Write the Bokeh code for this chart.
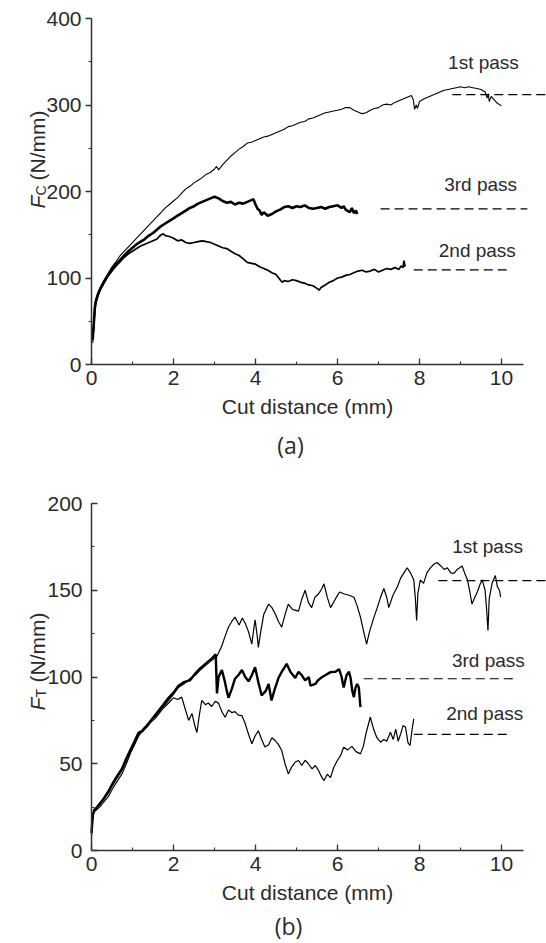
import math

from bokeh.core.properties import value
from bokeh.embed import file_html
from bokeh.layouts import column
from bokeh.models import Label, LinearAxis, Range1d, SingleIntervalTicker
from bokeh.plotting import figure
from bokeh.resources import INLINE

# ---------------- (a) cutting force F_C ----------------
fc1_x = [0.03, 0.06, 0.08, 0.1, 0.15, 0.2, 0.3, 0.4, 0.5, 0.6, 0.7, 0.8, 0.9, 1.0, 1.1, 1.2, 1.3, 1.4, 1.5, 1.6,
         1.7, 1.8, 1.9, 2.0, 2.1, 2.2, 2.3, 2.4, 2.5, 2.6, 2.7, 2.8, 2.9, 3.0, 3.05, 3.1, 3.2, 3.3, 3.4, 3.5,
         3.6, 3.7, 3.8, 3.9, 4.0, 4.1, 4.2, 4.3, 4.4, 4.5, 4.6, 4.7, 4.8, 4.9, 5.0, 5.1, 5.2, 5.3, 5.4, 5.5,
         5.6, 5.7, 5.8, 5.9, 6.0, 6.1, 6.2, 6.3, 6.4, 6.5, 6.6, 6.7, 6.8, 6.9, 7.0, 7.1, 7.2, 7.3, 7.4, 7.5,
         7.6, 7.7, 7.8, 7.85, 7.88, 7.92, 7.95, 8.0, 8.1, 8.2, 8.3, 8.4, 8.5, 8.6, 8.7, 8.8, 8.9, 9.0, 9.1, 9.2,
         9.3, 9.4, 9.5, 9.6, 9.65, 9.68, 9.7, 9.75, 9.8, 9.9, 10.0]
fc1_y = [25, 45, 62, 75, 82, 88, 97, 105, 113, 119, 126, 131, 136, 141, 146, 151, 156, 161, 166, 171,
         176, 181, 185, 189, 193, 198, 203, 206, 210, 213, 216, 220, 222, 226, 229, 225, 231, 236, 241, 245,
         249, 252, 256, 257, 259, 261, 263, 264, 266, 268, 270, 272, 275, 276, 278, 280, 281, 284, 285, 287,
         289, 291, 292, 293, 294, 295, 297, 297, 294, 292, 290, 291, 294, 296, 297, 300, 301, 300, 303, 305,
         307, 309, 311, 306, 295, 300, 296, 304, 307, 309, 311, 313, 315, 317, 318, 319, 320, 321, 320, 321,
         320, 319, 318, 315, 308, 313, 304, 310, 307, 302, 299]

fc2_x = [0.03, 0.06, 0.08, 0.1, 0.15, 0.2, 0.3, 0.4, 0.5, 0.6, 0.7, 0.8, 0.9, 1.0, 1.1, 1.2, 1.3, 1.4, 1.5, 1.6,
         1.65, 1.7, 1.75, 1.8, 1.9, 2.0, 2.1, 2.2, 2.3, 2.4, 2.5, 2.6, 2.7, 2.8, 2.9, 3.0, 3.1, 3.2, 3.3, 3.4,
         3.5, 3.6, 3.7, 3.8, 3.9, 4.0, 4.1, 4.2, 4.3, 4.4, 4.5, 4.6, 4.65, 4.7, 4.8, 4.9, 5.0, 5.1, 5.2, 5.3,
         5.4, 5.5, 5.55, 5.6, 5.7, 5.8, 5.9, 6.0, 6.1, 6.2, 6.3, 6.4, 6.5, 6.6, 6.7, 6.8, 6.9, 7.0, 7.1, 7.2,
         7.3, 7.4, 7.5, 7.55, 7.6, 7.62, 7.65]
fc2_y = [28, 48, 62, 70, 79, 85, 94, 102, 108, 114, 119, 124, 128, 131, 134, 137, 139, 141, 143, 145,
         148, 150, 151, 149, 148, 146, 143, 144, 141, 140, 141, 142, 143, 142, 141, 139, 137, 135, 134, 131,
         128, 126, 122, 118, 117, 116, 113, 111, 109, 106, 104, 98, 95, 97, 96, 98, 97, 95, 94, 92,
         91, 88, 86, 89, 92, 95, 97, 100, 101, 103, 104, 106, 108, 109, 107, 108, 110, 107, 109, 111,
         110, 112, 110, 114, 112, 120, 113]

fc3_x = [0.03, 0.06, 0.08, 0.1, 0.15, 0.2, 0.3, 0.4, 0.5, 0.6, 0.7, 0.8, 0.9, 1.0, 1.1, 1.2, 1.3, 1.4, 1.5, 1.6,
         1.7, 1.8, 1.9, 2.0, 2.1, 2.2, 2.3, 2.4, 2.5, 2.6, 2.7, 2.8, 2.9, 3.0, 3.1, 3.2, 3.3, 3.4, 3.5, 3.6,
         3.7, 3.8, 3.9, 3.95, 4.0, 4.05, 4.1, 4.15, 4.2, 4.3, 4.4, 4.5, 4.6, 4.7, 4.8, 4.9, 5.0, 5.1, 5.2, 5.3,
         5.4, 5.5, 5.6, 5.7, 5.8, 5.9, 6.0, 6.1, 6.15, 6.2, 6.3, 6.35, 6.4, 6.45, 6.48]
fc3_y = [30, 50, 65, 72, 80, 86, 95, 103, 110, 116, 121, 126, 131, 135, 139, 142, 145, 149, 152, 156,
         160, 163, 166, 169, 172, 175, 178, 181, 183, 186, 188, 190, 192, 194, 192, 189, 187, 188, 185, 187,
         186, 188, 190, 191, 185, 180, 178, 173, 176, 172, 174, 177, 179, 182, 183, 181, 183, 182, 184, 181,
         180, 181, 182, 180, 182, 183, 184, 181, 183, 179, 176, 181, 175, 178, 174]

# steady-state levels of (a): value, start, end of the dashed line
fc_level = [312, 109.5, 180]
fc_level_x0 = [8.8, 7.86, 7.05]
fc_level_x1 = [11.1, 10.2, 10.63]

# ---------------- (b) thrust force F_T ----------------
ft1_x = [0.0, 0.03, 0.06, 0.09, 0.15, 0.25, 0.35, 0.41, 0.5, 0.6, 0.74, 0.85, 0.95, 1.05, 1.15, 1.25, 1.35, 1.45,
         1.55, 1.65, 1.75, 1.88, 2.0, 2.12, 2.25, 2.4, 2.53, 2.65, 2.75, 2.85, 2.95, 3.06, 3.12, 3.18, 3.25,
         3.34, 3.42, 3.5, 3.6, 3.68, 3.75, 3.83, 3.91, 3.96, 3.99, 4.04, 4.07, 4.12, 4.2, 4.32, 4.4, 4.48,
         4.56, 4.64, 4.72, 4.8, 4.9, 5.05, 5.13, 5.21, 5.29, 5.37, 5.45, 5.54, 5.62, 5.67, 5.75, 5.83, 5.95,
         6.05, 6.15, 6.3, 6.4, 6.48, 6.56, 6.63, 6.71, 6.78, 6.89, 6.97, 7.05, 7.13, 7.2, 7.25, 7.35, 7.46,
         7.54, 7.62, 7.7, 7.78, 7.86, 7.9, 7.93, 7.96, 8.02, 8.1, 8.18, 8.27, 8.35, 8.43, 8.52, 8.6, 8.68,
         8.76, 8.84, 8.92, 9.04, 9.1, 9.17, 9.22, 9.28, 9.35, 9.41, 9.47, 9.53, 9.6, 9.64, 9.67, 9.7, 9.77,
         9.85, 9.9, 9.95, 9.98]
ft1_y = [8, 18, 24, 23, 25, 28, 31, 33, 37, 41, 46, 52, 57, 62, 67, 70, 72, 75,
         77, 80, 83, 86.5, 90, 94, 96, 99, 101, 104, 106, 108, 110, 112, 115, 118, 123,
         128.7, 132, 134.5, 130, 134, 131, 126, 119, 128, 133, 124, 117, 125, 136, 142, 140, 136.5,
         132, 128.7, 136, 142, 139, 138, 145, 150, 143, 140, 146, 148, 151, 153.7, 146, 140, 145,
         149, 148, 147, 146, 141, 134.5, 127, 119, 126, 134.5, 140, 146, 151, 146, 140, 147, 152,
         157, 160, 163, 160, 156, 145, 132.6, 148, 156, 154, 160, 163, 165, 166, 164, 162, 163,
         160, 159.7, 162, 164, 160, 156, 150, 142, 146, 149, 153, 156, 150, 138, 126.8, 145, 154,
         158.5, 152, 150, 146]

ft2_x = [0.0, 0.03, 0.06, 0.1, 0.2, 0.3, 0.41, 0.5, 0.6, 0.74, 0.85, 0.95, 1.05, 1.15, 1.25, 1.35, 1.45, 1.55,
         1.65, 1.75, 1.88, 2.0, 2.1, 2.2, 2.28, 2.37, 2.45, 2.52, 2.57, 2.63, 2.69, 2.78, 2.85, 2.93, 3.02,
         3.1, 3.18, 3.26, 3.34, 3.42, 3.5, 3.58, 3.67, 3.75, 3.83, 3.91, 3.99, 4.07, 4.15, 4.23, 4.32, 4.4,
         4.48, 4.56, 4.64, 4.72, 4.8, 4.88, 4.97, 5.05, 5.13, 5.21, 5.29, 5.38, 5.46, 5.54, 5.6, 5.67, 5.75,
         5.83, 5.91, 6.0, 6.08, 6.15, 6.25, 6.35, 6.45, 6.56, 6.63, 6.7, 6.8, 6.88, 6.96, 7.05, 7.13, 7.2,
         7.29, 7.36, 7.42, 7.48, 7.54, 7.6, 7.66, 7.72, 7.77, 7.82, 7.86]
ft2_y = [12, 19, 22, 23, 25, 28, 31, 35, 39, 44, 50, 56, 61, 66, 69, 71, 74, 76,
         79, 82, 85, 88, 87, 88.4, 82, 75, 79, 72, 68, 78, 86.5, 84, 85, 83, 86,
         84.8, 80, 76.8, 81, 79.5, 80, 78, 77.7, 73, 67, 61.5, 66, 69, 64, 59.7, 61, 65,
         63.4, 61, 57.6, 50, 44.2, 48, 51, 51.9, 49, 52, 50, 47, 49, 46, 43, 40.3, 44,
         42, 48, 52, 55, 59.5, 58, 60, 57, 55.7, 60, 68, 76.8, 70, 65, 62.4, 64, 63,
         68.2, 64, 70, 63, 67.2, 72, 71, 62, 60.5, 70, 75.9]

ft3_x = [0.0, 0.03, 0.06, 0.1, 0.2, 0.3, 0.41, 0.5, 0.6, 0.74, 0.85, 0.95, 1.05, 1.15, 1.25, 1.35, 1.45, 1.55,
         1.65, 1.75, 1.88, 2.0, 2.12, 2.25, 2.4, 2.53, 2.65, 2.75, 2.85, 2.95, 3.03, 3.06, 3.1, 3.18, 3.25,
         3.3, 3.34, 3.42, 3.5, 3.58, 3.67, 3.75, 3.83, 3.91, 3.99, 4.07, 4.15, 4.25, 4.32, 4.39, 4.47, 4.56,
         4.64, 4.72, 4.76, 4.85, 4.97, 5.05, 5.13, 5.21, 5.3, 5.34, 5.46, 5.52, 5.59, 5.7, 5.83, 5.95, 6.04,
         6.1, 6.15, 6.22, 6.28, 6.32, 6.36, 6.4, 6.44, 6.48, 6.52, 6.56]
ft3_y = [10, 20, 23, 24, 27, 30, 34, 38, 42, 47, 53, 58, 63, 68, 69, 72, 75, 78,
         81, 84, 88, 91, 95, 97, 98, 102, 105, 107, 109, 111, 113, 90.5, 100, 104, 97.6,
         92, 88, 93, 99, 101, 104, 100, 97.5, 101, 105.6, 97, 89.3, 92, 96, 86.5, 93, 99.4,
         103, 106, 107.6, 103, 99.4, 103, 101, 98, 100, 95, 96, 98, 99.4, 101, 102.8, 103, 104.5,
         100, 94, 101, 103, 99.4, 92, 88.4, 94, 96, 94, 82.6]

ft_level = [155.6, 66.9, 99]
ft_level_x0 = [8.46, 7.86, 6.64]
ft_level_x1 = [11.1, 10.22, 10.34]

pass_names = ["1st pass", "2nd pass", "3rd pass"]

# horizontal layout shared by both panels (pixels)
WIDTH = 546
AXIS_LEFT_PX = 91      # where x = 0 sits
PX_PER_MM = 41.0
AXIS_X_END = 10.54
FONT = "Liberation Sans"
TAG_FONT = "Open Sans"
TEXT_COLOR = "#2a2a2a"


def make_panel(height, top_px, bottom_px, y_max, y_step, y_ticks_out):
    """The plotting frame covers the whole canvas; the axes are pinned at x = 0 / y = 0
    so that every text around them can live inside the frame."""
    px_per_y = (bottom_px - top_px) / y_max
    x_lo = -AXIS_LEFT_PX / PX_PER_MM
    x_hi = (WIDTH - AXIS_LEFT_PX) / PX_PER_MM
    y_hi = y_max + top_px / px_per_y
    y_lo = -(height - bottom_px) / px_per_y
    p = figure(width=WIDTH, height=height, output_backend="svg", toolbar_location=None,
               x_range=Range1d(x_lo, x_hi), y_range=Range1d(y_lo, y_hi),
               x_axis_type=None, y_axis_type=None, min_border=0)
    p.outline_line_color = None
    p.background_fill_color = "white"
    p.border_fill_color = "white"

    xaxis = LinearAxis(ticker=SingleIntervalTicker(interval=2, num_minor_ticks=2),
                       bounds=(0, AXIS_X_END), fixed_location=0)
    yaxis = LinearAxis(ticker=SingleIntervalTicker(interval=y_step, num_minor_ticks=2),
                       bounds=(0, y_max), fixed_location=0)
    for ax in (xaxis, yaxis):
        ax.axis_line_color = "#333333"
        ax.axis_line_width = 1.5
        ax.major_tick_line_color = "#333333"
        ax.minor_tick_line_color = "#333333"
        ax.major_tick_line_width = 1.3
        ax.minor_tick_line_width = 1.1
        ax.major_label_text_font = FONT
        ax.major_label_text_font_size = "21px"
        ax.major_label_text_color = TEXT_COLOR

    xaxis.major_tick_in, xaxis.major_tick_out = 6, 0
    xaxis.minor_tick_in, xaxis.minor_tick_out = 3, 0
    xaxis.major_label_standoff = 6
    if y_ticks_out:
        yaxis.major_tick_in, yaxis.major_tick_out = 0, 6
        yaxis.minor_tick_in, yaxis.minor_tick_out = 0, 3
        yaxis.major_label_standoff = 4
    else:
        yaxis.major_tick_in, yaxis.major_tick_out = 6, 0
        yaxis.minor_tick_in, yaxis.minor_tick_out = 3, 0
        yaxis.major_label_standoff = 9
    p.add_layout(xaxis, "below")
    p.add_layout(yaxis, "left")
    return p, px_per_y


def text_label(p, x, y, text, size, font=FONT, style="normal", angle=0.0,
               align="center", baseline="middle"):
    p.add_layout(Label(x=x, y=y, text=text, angle=angle, text_align=align, text_baseline=baseline,
                       text_font=font, text_font_size=size, text_font_style=style,
                       text_color=TEXT_COLOR))


def decorate(p, px_per_y, pass_pos, sub, label_start_px, tag, tag_px, tag_drop_px):
    """Pass names, rotated force label, x axis title and panel tag; offsets are given in
    pixels from the axes' origin and converted to data units."""
    px_x = 1.0 / PX_PER_MM
    px_y = 1.0 / px_per_y

    # panel tag drawn as an upright text glyph below the axis title
    p.text(x=[tag_px * px_x], y=[-tag_drop_px * px_y], text=[tag], text_font=value(TAG_FONT),
           text_font_size=value("23px"), text_font_style="normal", text_color=TEXT_COLOR,
           text_align="center", text_baseline="middle")

    for name, (x, y) in zip(pass_names, pass_pos):
        text_label(p, x, y, name, "19px")

    # x axis title, centred under the drawn axis line
    text_label(p, AXIS_X_END / 2, -42 * px_y, "Cut distance (mm)", "21px")

    # rotated "F_sub (N/mm)", reading bottom to top
    rot = math.pi / 2
    base_x = -54 * px_x
    y0 = label_start_px * px_y
    text_label(p, base_x, y0, "F", "21px", style="italic", angle=rot, align="left", baseline="alphabetic")
    text_label(p, base_x + 3 * px_x, y0 + 13 * px_y, sub, "14px", angle=rot, align="left",
               baseline="alphabetic")
    text_label(p, base_x, y0 + 28 * px_y, "(N/mm)", "21px", angle=rot, align="left", baseline="alphabetic")


# ----- panel (a): axes box from y = 18 px (400) to 364 px (0)
pa, pa_scale = make_panel(462, 18, 364, 400, 100, True)
pa.line(fc1_x, fc1_y, line_color="black", line_width=1.1)
pa.line(fc2_x, fc2_y, line_color="black", line_width=1.7)
pa.line(fc3_x, fc3_y, line_color="black", line_width=2.6)
pa.segment(x0=fc_level_x0, y0=fc_level, x1=fc_level_x1, y1=fc_level,
           line_color="black", line_width=1.2, line_dash="9 5")
decorate(pa, pa_scale, [(9.56, 349), (9.41, 132), (9.49, 208)], "C", 156, "(a)", 199, 80)

# ----- panel (b): axes box from y = 41 px (200) to 388 px (0) of its own canvas
pb, pb_scale = make_panel(481, 41, 388, 200, 50, False)
pb.line(ft1_x, ft1_y, line_color="black", line_width=1.2)
pb.line(ft2_x, ft2_y, line_color="black", line_width=1.2)
pb.line(ft3_x, ft3_y, line_color="black", line_width=2.4)
pb.segment(x0=ft_level_x0, y0=ft_level, x1=ft_level_x1, y1=ft_level,
           line_color="black", line_width=1.2, line_dash="9 5")
decorate(pb, pb_scale, [(9.66, 175), (9.59, 79), (9.68, 109.5)], "T", 140, "(b)", 197, 75)

layout = column(pa, pb, spacing=0)
open("out.html", "w").write(file_html(layout, INLINE))
